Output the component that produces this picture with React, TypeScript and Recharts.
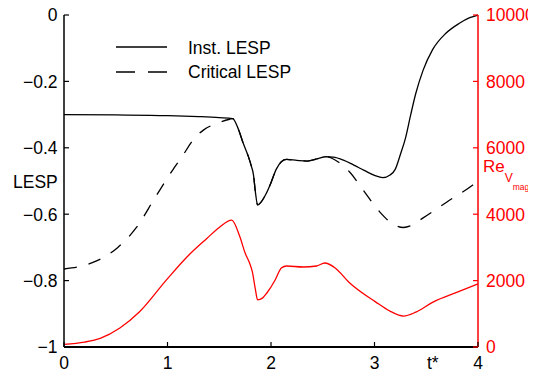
import { ComposedChart, Line, XAxis, YAxis } from "recharts";

const W = 536;
const H = 374;
const FONT = '"Liberation Sans", Arial, Helvetica, sans-serif';
const FS = 17.5;
const RED = "#ff0000";

const xTicks = [0, 1, 2, 3, 4];
const lespTicks = [-1, -0.8, -0.6, -0.4, -0.2, 0];
const reTicks = [0, 2000, 4000, 6000, 8000, 10000];

// Inst. LESP (solid black)
const instT = [0, 0.5, 1.0, 1.3, 1.5, 1.63, 1.68, 1.73, 1.78, 1.81, 1.83, 1.85, 1.87, 1.9, 1.95, 2.0, 2.05, 2.1, 2.15, 2.25, 2.35, 2.45, 2.53, 2.6, 2.7, 2.8, 2.9, 3.0, 3.08, 3.15, 3.2, 3.25, 3.3, 3.35, 3.4, 3.47, 3.56, 3.69, 3.82, 3.92, 4.0];
const instLesp = [-0.3, -0.301, -0.303, -0.306, -0.309, -0.312, -0.34, -0.385, -0.425, -0.455, -0.48, -0.535, -0.572, -0.565, -0.54, -0.505, -0.465, -0.442, -0.435, -0.438, -0.44, -0.433, -0.427, -0.428, -0.437, -0.452, -0.468, -0.483, -0.49, -0.482, -0.465, -0.42, -0.37, -0.3, -0.235, -0.166, -0.105, -0.055, -0.025, -0.008, 0];

// Critical LESP (dashed black)
const critT = [0, 0.15, 0.32, 0.52, 0.7, 0.88, 1.05, 1.14, 1.25, 1.35, 1.48, 1.6, 1.63, 1.68, 1.73, 1.78, 1.81, 1.83, 1.85, 1.87, 1.9, 1.95, 2.0, 2.05, 2.1, 2.15, 2.25, 2.35, 2.45, 2.53, 2.65, 2.76, 2.89, 3.05, 3.18, 3.28, 3.35, 3.47, 3.7, 3.95, 4.0];
const critLesp = [-0.765, -0.758, -0.74, -0.7, -0.64, -0.55, -0.467, -0.427, -0.375, -0.346, -0.326, -0.314, -0.312, -0.34, -0.385, -0.425, -0.455, -0.48, -0.535, -0.572, -0.565, -0.54, -0.505, -0.465, -0.442, -0.435, -0.438, -0.44, -0.433, -0.427, -0.443, -0.473, -0.527, -0.593, -0.63, -0.64, -0.635, -0.611, -0.563, -0.512, -0.5];

// Re_V_mag (red, right axis)
const reT = [0, 0.2, 0.35, 0.54, 0.73, 0.99, 1.19, 1.38, 1.5, 1.62, 1.7, 1.75, 1.79, 1.82, 1.85, 1.87, 1.92, 1.96, 2.04, 2.1, 2.15, 2.31, 2.44, 2.52, 2.62, 2.75, 3.01, 3.15, 3.28, 3.4, 3.57, 3.8, 4.0];
const reVals = [80, 150, 260, 570, 1060, 2020, 2720, 3270, 3600, 3820, 3313, 2830, 2550, 2260, 1717, 1420, 1480, 1627, 2018, 2380, 2440, 2410, 2440, 2530, 2380, 1960, 1360, 1080, 930, 1050, 1360, 1650, 1900];

const instData = instT.map((t, i) => ({ t, v: instLesp[i] }));
const critData = critT.map((t, i) => ({ t, v: critLesp[i] }));
const reData = reT.map((t, i) => ({ t, v: reVals[i] }));

function fmtLesp(v: number) {
  return v < 0 ? "\u2212" + String(Math.abs(v)) : String(v);
}

function BottomTick(props: any) {
  const { x, y, payload } = props;
  return (
    <g>
      <line x1={x} x2={x} y1={y} y2={y - 5} stroke="#000" strokeWidth={1.2} />
      <text x={x} y={y + 22} textAnchor="middle" fontSize={FS} fontFamily={FONT} fill="#000">
        {payload.value}
      </text>
    </g>
  );
}

function TopTick(props: any) {
  const { x, y } = props;
  return <line x1={x} x2={x} y1={y} y2={y + 5} stroke="#000" strokeWidth={1.2} />;
}

function LeftTick(props: any) {
  const { x, y, payload } = props;
  return (
    <g>
      <line x1={x} x2={x + 5} y1={y} y2={y} stroke="#000" strokeWidth={1.2} />
      <text x={x - 6.5} y={y + 6.3} textAnchor="end" fontSize={FS} fontFamily={FONT} fill="#000">
        {fmtLesp(payload.value)}
      </text>
    </g>
  );
}

function RightTick(props: any) {
  const { x, y, payload } = props;
  return (
    <g>
      <line x1={x} x2={x - 5} y1={y} y2={y} stroke={RED} strokeWidth={1.2} />
      <text x={x + 8} y={y + 6.3} textAnchor="start" fontSize={FS} fontFamily={FONT} fill={RED}>
        {payload.value}
      </text>
    </g>
  );
}

export default function App() {
  // pull the chart over the body's 8px margin so it sits at the page origin
  return (
    <div style={{ position: "relative", width: W, height: H, margin: "-8px 0 0 -8px", background: "#fff" }}>
      <ComposedChart width={W} height={H} margin={{ top: 15, right: 0, bottom: 0, left: 0 }}>
        <XAxis
          xAxisId="bottom"
          dataKey="t"
          type="number"
          domain={[0, 4]}
          ticks={xTicks}
          interval={0}
          height={27}
          tickSize={0}
          tickMargin={0}
          tickLine={false}
          tick={<BottomTick />}
          axisLine={{ stroke: "#000", strokeWidth: 2 }}
        />
        <XAxis
          xAxisId="top"
          orientation="top"
          dataKey="t"
          type="number"
          domain={[0, 4]}
          ticks={xTicks}
          interval={0}
          height={0}
          tickSize={0}
          tickMargin={0}
          tickLine={false}
          tick={<TopTick />}
          axisLine={{ stroke: "#000", strokeWidth: 1.5 }}
        />
        <YAxis
          yAxisId="left"
          type="number"
          domain={[-1, 0]}
          ticks={lespTicks}
          interval={0}
          width={64}
          tickSize={0}
          tickMargin={0}
          tickLine={false}
          tick={<LeftTick />}
          axisLine={{ stroke: "#000", strokeWidth: 1.5 }}
        />
        <YAxis
          yAxisId="right"
          orientation="right"
          type="number"
          domain={[0, 10000]}
          ticks={reTicks}
          interval={0}
          width={58}
          tickSize={0}
          tickMargin={0}
          tickLine={false}
          tick={<RightTick />}
          axisLine={{ stroke: RED, strokeWidth: 1.5 }}
        />
        <Line
          data={reData}
          xAxisId="bottom"
          yAxisId="right"
          dataKey="v"
          type="monotone"
          stroke={RED}
          strokeWidth={1.3}
          dot={false}
          isAnimationActive={false}
        />
        <Line
          data={instData}
          xAxisId="bottom"
          yAxisId="left"
          dataKey="v"
          type="monotone"
          stroke="#000"
          strokeWidth={1.3}
          dot={false}
          isAnimationActive={false}
        />
        <Line
          data={critData}
          xAxisId="bottom"
          yAxisId="left"
          dataKey="v"
          type="monotone"
          stroke="#000"
          strokeWidth={1.3}
          strokeDasharray="13 12"
          dot={false}
          isAnimationActive={false}
        />
      </ComposedChart>
      <svg
        width={W}
        height={H}
        style={{ position: "absolute", left: 0, top: 0, pointerEvents: "none" }}
        fontFamily={FONT}
      >
        <line x1={116} x2={167} y1={47} y2={47} stroke="#000" strokeWidth={1.3} />
        <line x1={116} x2={167} y1={72} y2={72} stroke="#000" strokeWidth={1.3} strokeDasharray="19 13" />
        <text x={188} y={54} fontSize={FS} fill="#000">Inst. LESP</text>
        <text x={188} y={78} fontSize={FS} fill="#000">Critical LESP</text>
        <text x={13} y={188} fontSize={FS} fill="#000">LESP</text>
        <text x={427} y={369} fontSize={FS} fill="#000">t*</text>
        <text x={483} y={172} fontSize={17} fill={RED}>
          Re
          <tspan dy={10} fontSize={12}>V</tspan>
          <tspan dy={8} fontSize={8.5}>mag</tspan>
        </text>
      </svg>
    </div>
  );
}
